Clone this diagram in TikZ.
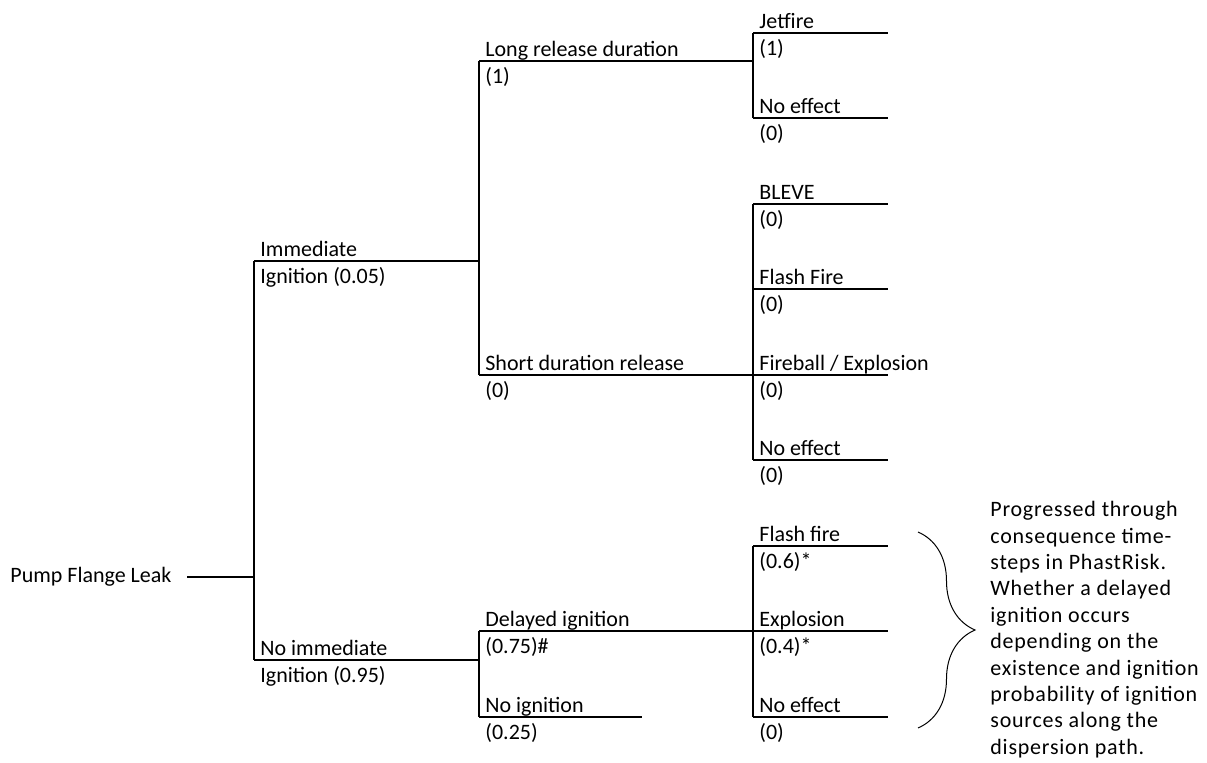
\documentclass[tikz,border=0pt]{standalone}
\usepackage{fontspec}
\setmainfont{Carlito}
\usetikzlibrary{decorations.pathreplacing}

\begin{document}
\begin{tikzpicture}[x=0.5pt,y=-0.5pt,font=\fontsize{11}{13.4}\selectfont]
\useasboundingbox (0,0) rectangle (1207,762);

% branch points of the tree
\coordinate (root_e) at (187,577);
\coordinate (root_j) at (254,577);
\coordinate (imm_s) at (254,261);
\coordinate (imm_e) at (479,261);
\coordinate (noimm_s) at (254,660);
\coordinate (noimm_e) at (479,660);

\coordinate (long_s) at (479,61);
\coordinate (long_e) at (753,61);
\coordinate (short_s) at (479,375);
\coordinate (short_e) at (753,375);
\coordinate (delay_s) at (479,631);
\coordinate (delay_e) at (753,631);
\coordinate (noign_s) at (479,717);
\coordinate (noign_e) at (642,717);

\coordinate (jet_s) at (753,33);     \coordinate (jet_e) at (888,33);
\coordinate (noeff1_s) at (753,118); \coordinate (noeff1_e) at (888,118);
\coordinate (bleve_s) at (753,204);  \coordinate (bleve_e) at (888,204);
\coordinate (flash_s) at (753,289);  \coordinate (flash_e) at (888,289);
\coordinate (fireb_s) at (753,375);  \coordinate (fireb_e) at (888,375);
\coordinate (noeff2_s) at (753,460); \coordinate (noeff2_e) at (888,460);
\coordinate (flash2_s) at (753,546); \coordinate (flash2_e) at (888,546);
\coordinate (expl_s) at (753,631);   \coordinate (expl_e) at (888,631);
\coordinate (noeff3_s) at (753,717); \coordinate (noeff3_e) at (888,717);

\coordinate (brace_t) at (918,532);
\coordinate (brace_b) at (918,728);

\begin{scope}[every node/.style={inner sep=0pt}]
    \node[anchor=west] (pump) at (10,577) {Pump Flange Leak};
\end{scope}

% labels above and below each branch
\begin{scope}[toplabel/.style={anchor=base west,inner sep=0pt,xshift=3pt,yshift=2.5pt},
              botlabel/.style={anchor=base west,inner sep=0pt,xshift=3pt,yshift=-11.3pt}]
    \node[toplabel] (imm_t) at (imm_s) {Immediate};
    \node[botlabel] (imm_b) at (imm_s) {Ignition (0.05)};
    \node[toplabel] (noimm_t) at (noimm_s) {No immediate};
    \node[botlabel] (noimm_b) at (noimm_s) {Ignition (0.95)};

    \node[toplabel] (long_t) at (long_s) {Long release duration};
    \node[botlabel] (long_b) at (long_s) {(1)};
    \node[toplabel] (short_t) at (short_s) {Short duration release};
    \node[botlabel] (short_b) at (short_s) {(0)};
    \node[toplabel] (delay_t) at (delay_s) {Delayed ignition};
    \node[botlabel] (delay_b) at (delay_s) {(0.75)\#};
    \node[toplabel] (noign_t) at (noign_s) {No ignition};
    \node[botlabel] (noign_b) at (noign_s) {(0.25)};

    \node[toplabel] (jet_t) at (jet_s) {Jetfire};
    \node[botlabel] (jet_b) at (jet_s) {(1)};
    \node[toplabel] (noeff1_t) at (noeff1_s) {No effect};
    \node[botlabel] (noeff1_b) at (noeff1_s) {(0)};
    \node[toplabel] (bleve_t) at (bleve_s) {BLEVE};
    \node[botlabel] (bleve_b) at (bleve_s) {(0)};
    \node[toplabel] (flash_t) at (flash_s) {Flash Fire};
    \node[botlabel] (flash_b) at (flash_s) {(0)};
    \node[toplabel] (fireb_t) at (fireb_s) {Fireball / Explosion};
    \node[botlabel] (fireb_b) at (fireb_s) {(0)};
    \node[toplabel] (noeff2_t) at (noeff2_s) {No effect};
    \node[botlabel] (noeff2_b) at (noeff2_s) {(0)};
    \node[toplabel] (flash2_t) at (flash2_s) {Flash fire};
    \node[botlabel] (flash2_b) at (flash2_s) {(0.6)*};
    \node[toplabel] (expl_t) at (expl_s) {Explosion};
    \node[botlabel] (expl_b) at (expl_s) {(0.4)*};
    \node[toplabel] (noeff3_t) at (noeff3_s) {No effect};
    \node[botlabel] (noeff3_b) at (noeff3_s) {(0)};
\end{scope}

\node[anchor=north west,inner sep=0pt,align=left,
      font=\fontsize{11}{13.2}\selectfont\addfontfeatures{LetterSpace=3.5}]
    (note) at (990,501) {Progressed through\\consequence time-\\steps in PhastRisk.\\Whether a delayed\\ignition occurs\\depending on the\\existence and ignition\\probability of ignition\\sources along the\\dispersion path.};

\begin{scope}[every path/.style={draw,line width=0.8pt}]
    \path (root_e) -- (root_j);
    \path (imm_s) -- (noimm_s);
    \path (imm_s) -- (imm_e);
    \path (noimm_s) -- (noimm_e);

    \path (long_s) -- (short_s);
    \path (long_s) -- (long_e);
    \path (short_s) -- (short_e);
    \path (delay_s) -- (noign_s);
    \path (delay_s) -- (delay_e);
    \path (noign_s) -- (noign_e);

    \path (jet_s) -- (noeff1_s);
    \path (jet_s) -- (jet_e);
    \path (noeff1_s) -- (noeff1_e);
    \path (bleve_s) -- (noeff2_s);
    \path (bleve_s) -- (bleve_e);
    \path (flash_s) -- (flash_e);
    \path (fireb_s) -- (fireb_e);
    \path (noeff2_s) -- (noeff2_e);
    \path (flash2_s) -- (noeff3_s);
    \path (flash2_s) -- (flash2_e);
    \path (expl_s) -- (expl_e);
    \path (noeff3_s) -- (noeff3_e);
\end{scope}

\draw[line width=0.5pt,decorate,decoration={brace,amplitude=28.5pt}] (brace_t) -- (brace_b);
\end{tikzpicture}
\end{document}
